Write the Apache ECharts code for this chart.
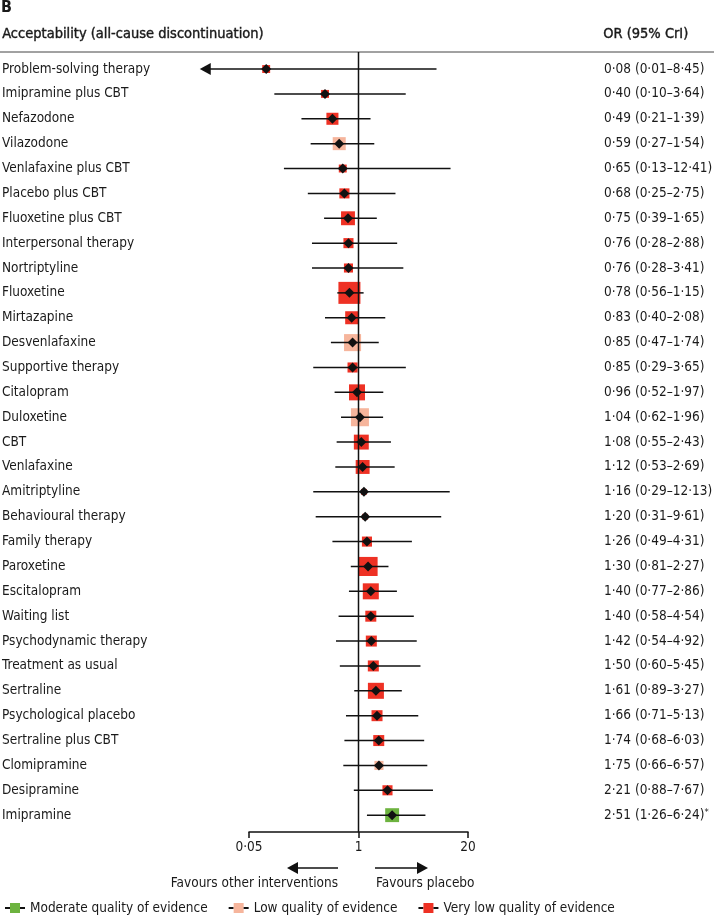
<!DOCTYPE html>
<html>
<head>
<meta charset="utf-8">
<script src="https://cdn.jsdelivr.net/npm/echarts@6/dist/echarts.min.js"></script>
<style>
  html, body { margin: 0; padding: 0; background: #fff; }
  #chart { width: 714px; height: 917px; }
</style>
</head>
<body>
<div id="chart"></div>
<script>
// rows, top to bottom
const treatments = [
  'Problem-solving therapy', 'Imipramine plus CBT', 'Nefazodone', 'Vilazodone',
  'Venlafaxine plus CBT', 'Placebo plus CBT', 'Fluoxetine plus CBT', 'Interpersonal therapy',
  'Nortriptyline', 'Fluoxetine', 'Mirtazapine', 'Desvenlafaxine', 'Supportive therapy',
  'Citalopram', 'Duloxetine', 'CBT', 'Venlafaxine', 'Amitriptyline', 'Behavioural therapy',
  'Family therapy', 'Paroxetine', 'Escitalopram', 'Waiting list', 'Psychodynamic therapy',
  'Treatment as usual', 'Sertraline', 'Psychological placebo', 'Sertraline plus CBT',
  'Clomipramine', 'Desipramine', 'Imipramine'
];
const oddsRatio = [0.08, 0.40, 0.49, 0.59, 0.65, 0.68, 0.75, 0.76, 0.76, 0.78, 0.83, 0.85, 0.85, 0.96, 1.04,
  1.08, 1.12, 1.16, 1.20, 1.26, 1.30, 1.40, 1.40, 1.42, 1.50, 1.61, 1.66, 1.74, 1.75, 2.21, 2.51];
const lowerCrI = [0.01, 0.10, 0.21, 0.27, 0.13, 0.25, 0.39, 0.28, 0.28, 0.56, 0.40, 0.47, 0.29, 0.52, 0.62,
  0.55, 0.53, 0.29, 0.31, 0.49, 0.81, 0.77, 0.58, 0.54, 0.60, 0.89, 0.71, 0.68, 0.66, 0.88, 1.26];
const upperCrI = [8.45, 3.64, 1.39, 1.54, 12.41, 2.75, 1.65, 2.88, 3.41, 1.15, 2.08, 1.74, 3.65, 1.97, 1.96,
  2.43, 2.69, 12.13, 9.61, 4.31, 2.27, 2.86, 4.54, 4.92, 5.45, 3.27, 5.13, 6.03, 6.57, 7.67, 6.24];
// relative weight of each comparison (box area)
const weights = [13, 13, 30, 35, 13, 21, 40, 21, 17, 100, 35, 60, 21, 53, 67,
  46, 40, 7, 7, 21, 75, 53, 25, 25, 25, 53, 25, 25, 17, 21, 40];
// 0 moderate, 1 low, 2 very low
const quality = [2, 2, 2, 1, 2, 2, 2, 2, 2, 2, 2, 1, 2, 2, 1,
  2, 2, 2, 2, 2, 2, 2, 2, 2, 2, 2, 2, 2, 1, 2, 0];
const qualityNames = ['Moderate quality of evidence', 'Low quality of evidence', 'Very low quality of evidence'];
const xTicks = [0.05, 1, 20];

const qualityColors = ['#6DB33F', '#F6B59C', '#EE3124'];
const qualityKeys = ['g', 'l', 'r'];
const arrowLimit = 0.013;
const boxScale = 2.2;
const FONT = '"Liberation Sans Narrow", "DejaVu Sans Condensed", "Liberation Sans", sans-serif';
const FS = 13.5;
const TXT = '#1a1a1a';

const fmt = v => v.toFixed(2).replace('.', '·');
const orLabels = oddsRatio.map((v, i) => {
  const sig = lowerCrI[i] > 1 || upperCrI[i] < 1;
  return fmt(v) + ' (' + fmt(lowerCrI[i]) + '–' + fmt(upperCrI[i]) + ')' + (sig ? '*' : '');
});

function renderRow(params, api) {
  const row = api.value(1);
  const p = api.coord([api.value(0), row]);
  const lo = api.value(2);
  const xLo = api.coord([Math.max(lo, arrowLimit), row])[0];
  const xHi = api.coord([api.value(3), row])[0];
  const side = boxScale * Math.sqrt(api.value(4));
  const color = api.visual('color');
  const y = p[1];
  const children = [{
    type: 'rect',
    shape: { x: p[0] - side / 2, y: y - side / 2, width: side, height: side },
    style: { fill: color }
  }];
  const truncated = lo < arrowLimit;
  children.push({
    type: 'line',
    shape: { x1: truncated ? xLo + 8 : xLo, y1: y, x2: xHi, y2: y },
    style: { stroke: '#111', lineWidth: 1.5 }
  });
  if (truncated) {
    children.push({
      type: 'polygon',
      shape: { points: [[xLo, y], [xLo + 11, y - 6], [xLo + 11, y + 6]] },
      style: { fill: '#111' }
    });
  }
  children.push({
    type: 'polygon',
    shape: { points: [[p[0], y - 5], [p[0] + 5, y], [p[0], y + 5], [p[0] - 5, y]] },
    style: { fill: '#111' }
  });
  return { type: 'group', children: children };
}

const rowSeries = qualityNames.map((name, q) => ({
  name: name,
  type: 'custom',
  xAxisIndex: 1,
  yAxisIndex: 1,
  clip: false,
  z: 2,
  itemStyle: { color: qualityColors[q] },
  renderItem: renderRow,
  data: oddsRatio.map((v, i) => [v, i, lowerCrI[i], upperCrI[i], weights[i]]).filter((d, i) => quality[i] === q)
}));

const legendRich = {
  stub: { width: 5, height: 2, backgroundColor: '#111', verticalAlign: 'middle' },
  txt: { fontSize: FS, fontFamily: FONT, color: TXT, padding: [0, 0, 0, 5], verticalAlign: 'middle' }
};
qualityKeys.forEach((k, q) => {
  legendRich[k] = { width: 10, height: 10, backgroundColor: qualityColors[q], verticalAlign: 'middle' };
});

// semi-bold look for the header lines
const headStyle = { font: '14.5px ' + FONT, fill: TXT, stroke: TXT, lineWidth: 0.4 };

const chart = echarts.init(document.getElementById('chart'));
chart.setOption({
  backgroundColor: '#fff',
  animation: false,
  textStyle: { fontFamily: FONT },
  grid: [
    { left: 249, right: 246, top: 52, bottom: 85, outerBoundsMode: 'none' },
    { left: 249, right: 246, top: 56.6, height: 771, outerBoundsMode: 'none' }
  ],
  xAxis: [{
    type: 'log', gridIndex: 0, logBase: 10, min: 0.05, max: 20,
    axisLine: { show: true, lineStyle: { color: '#111', width: 1.5 } },
    axisTick: { show: true, customValues: xTicks, length: 6, lineStyle: { color: '#111', width: 1.5 } },
    axisLabel: {
      customValues: xTicks, margin: 8, fontSize: FS, color: TXT, fontFamily: FONT,
      formatter: v => String(v).replace('.', '·')
    },
    splitLine: { show: false }
  }, {
    type: 'log', gridIndex: 1, logBase: 10, min: 0.05, max: 20, show: false
  }],
  yAxis: [{
    type: 'value', gridIndex: 0, min: 0, max: 1, show: false
  }, {
    type: 'category', gridIndex: 1, inverse: true, data: treatments,
    axisLine: { show: false }, axisTick: { show: false },
    axisLabel: { align: 'left', margin: 247, fontSize: FS, color: TXT, fontFamily: FONT }
  }, {
    type: 'category', gridIndex: 1, inverse: true, position: 'right', data: orLabels,
    axisLine: { show: false }, axisTick: { show: false },
    axisLabel: {
      align: 'left', margin: 136, fontSize: FS, color: TXT, fontFamily: FONT,
      formatter: v => v.endsWith('*') ? v.slice(0, -1) + '{s|*}' : v,
      rich: { s: { fontSize: 9.5, color: TXT, fontFamily: FONT, verticalAlign: 'top', padding: [0, 0, 6, 0] } }
    }
  }],
  legend: {
    left: 0, top: 901, padding: 0, icon: 'none', itemWidth: 0, itemHeight: 14, itemGap: 16,
    selectedMode: false,
    data: qualityNames,
    formatter: name => {
      const k = qualityKeys[qualityNames.indexOf(name)];
      return '{stub|}{' + k + '|}{stub|}{txt|' + name + '}';
    },
    textStyle: { rich: legendRich }
  },
  graphic: [
    { type: 'text', left: 1, top: 0, style: { text: 'B', font: 'bold 16px ' + FONT, fill: TXT } },
    { type: 'text', left: 2, top: 27, style: Object.assign({ text: 'Acceptability (all-cause discontinuation)' }, headStyle) },
    { type: 'text', left: 603, top: 27, style: Object.assign({ text: 'OR (95% CrI)' }, headStyle) },
    { type: 'line', shape: { x1: 0, y1: 52, x2: 714, y2: 52 }, style: { stroke: '#444', lineWidth: 1 } },
    { type: 'line', shape: { x1: 296, y1: 868, x2: 338, y2: 868 }, style: { stroke: '#111', lineWidth: 1.5 } },
    { type: 'polygon', shape: { points: [[287, 868], [298, 862], [298, 874]] }, style: { fill: '#111' } },
    { type: 'line', shape: { x1: 375, y1: 868, x2: 418, y2: 868 }, style: { stroke: '#111', lineWidth: 1.5 } },
    { type: 'polygon', shape: { points: [[428, 868], [417, 862], [417, 874]] }, style: { fill: '#111' } },
    { type: 'text', x: 338, y: 876, style: { text: 'Favours other interventions', font: FS + 'px ' + FONT, fill: TXT, textAlign: 'right' } },
    { type: 'text', x: 376, y: 876, style: { text: 'Favours placebo', font: FS + 'px ' + FONT, fill: TXT, textAlign: 'left' } }
  ],
  series: [{
    type: 'line', xAxisIndex: 0, yAxisIndex: 0, data: [[1, 0], [1, 1]],
    symbol: 'none', silent: true, z: 3,
    lineStyle: { color: '#111', width: 1.5 }
  }].concat(rowSeries)
});
</script>
</body>
</html>
